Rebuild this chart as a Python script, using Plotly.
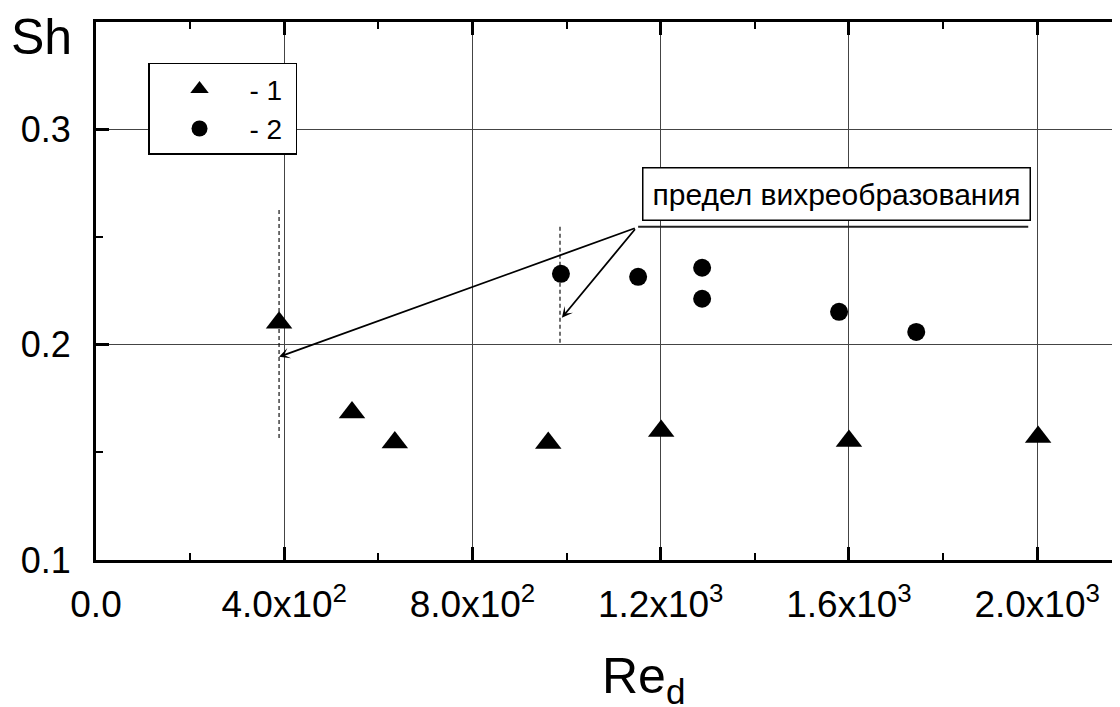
import plotly.graph_objects as go

# ---- data ----
re_1 = [389, 544, 635, 961, 1201, 1600, 2002]
sh_1 = [0.2102, 0.1685, 0.1546, 0.1544, 0.1600, 0.1553, 0.1572]

re_2 = [988, 1152, 1288, 1288, 1579, 1743]
sh_2 = [0.2330, 0.2316, 0.2358, 0.2214, 0.2153, 0.2060]

# vortex-formation limit (dashed verticals)
limit_a_x = [389, 389]
limit_a_y = [0.1567, 0.2628]
limit_b_x = [986, 986]
limit_b_y = [0.2009, 0.2558]

x_tickvals = [0, 400, 800, 1200, 1600, 2000]
x_ticktext = ["0.0", "4.0x10<sup>2</sup>", "8.0x10<sup>2</sup>",
              "1.2x10<sup>3</sup>", "1.6x10<sup>3</sup>", "2.0x10<sup>3</sup>"]
y_tickvals = [0.1, 0.2, 0.3]
y_ticktext = ["0.1", "0.2", "0.3"]

label_text = "предел вихреобразования"
series_names = ["- 1\u00a0", "- 2\u00a0"]

FONT = "Liberation Sans, Arial, sans-serif"

fig = go.Figure()

for xs, ys in [(limit_a_x, limit_a_y), (limit_b_x, limit_b_y)]:
    fig.add_trace(go.Scatter(x=xs, y=ys, mode="lines",
                             line=dict(color="#111111", width=1.2, dash="4px,3px"),
                             showlegend=False, hoverinfo="skip"))

fig.add_trace(go.Scatter(x=re_1, y=sh_1, mode="markers", name=series_names[0],
                         marker=dict(symbol="triangle-up", size=23, color="black")))
fig.add_trace(go.Scatter(x=re_2, y=sh_2, mode="markers", name=series_names[1],
                         marker=dict(symbol="circle", size=18, color="black")))

# arrows from the label to the limits
tail_x, tail_y = 1148, 0.2544
for hx, hy in [(389, 0.1944), (990, 0.2126)]:
    fig.add_annotation(x=hx, y=hy, ax=tail_x, ay=tail_y, xref="x", yref="y",
                       axref="x", ayref="y", text="", showarrow=True,
                       arrowhead=3, arrowsize=1.0, arrowwidth=1.8, arrowcolor="black")

fig.add_annotation(x=1573, y=0.2700, xref="x", yref="y", text=label_text,
                   showarrow=False, font=dict(family=FONT, size=30, color="black"),
                   bgcolor="white", bordercolor="black", borderwidth=1.5, borderpad=9)

fig.add_shape(type="line", x0=1152, x1=1981, y0=0.2549, y1=0.2549, xref="x", yref="y",
              line=dict(color="#222222", width=2))

# axis titles
fig.add_annotation(x=-0.084, y=0.972, xref="paper", yref="paper", xanchor="left",
                   yanchor="middle", text="Sh", showarrow=False,
                   font=dict(family=FONT, size=50, color="black"))
fig.add_annotation(x=0.488, y=-0.222, xref="paper", yref="paper", xanchor="left",
                   yanchor="middle", text="Re<sub>d</sub>", showarrow=False,
                   font=dict(family=FONT, size=50, color="black"))

fig.update_xaxes(range=[0, 2193], tickvals=x_tickvals, ticktext=x_ticktext,
                 showline=True, linecolor="black", linewidth=3, mirror="ticks",
                 ticks="inside", ticklen=13, tickwidth=2.5, tickcolor="black",
                 showgrid=True, gridcolor="#444444", gridwidth=1, zeroline=False,
                 minor=dict(dtick=200, ticks="inside", ticklen=7, tickwidth=2,
                            tickcolor="black", showgrid=False),
                 tickfont=dict(family=FONT, size=37, color="black"),
                 ticklabelstandoff=10)
fig.update_yaxes(range=[0.1, 0.35], tickvals=y_tickvals, ticktext=y_ticktext,
                 showline=True, linecolor="black", linewidth=3, mirror=False,
                 ticks="inside", ticklen=13, tickwidth=2.5, tickcolor="black",
                 showgrid=True, gridcolor="#444444", gridwidth=1, zeroline=False,
                 minor=dict(dtick=0.05, ticks="inside", ticklen=7, tickwidth=2,
                            tickcolor="black", showgrid=False),
                 tickfont=dict(family=FONT, size=36, color="black"),
                 ticklabelstandoff=15)

fig.update_layout(
    width=1120, height=707,
    margin=dict(l=88, r=0, t=14, b=155, autoexpand=False),
    paper_bgcolor="white", plot_bgcolor="white",
    font=dict(family=FONT, color="black"),
    legend=dict(x=0.0504, y=0.924, xanchor="left", yanchor="top",
                bgcolor="white", bordercolor="black", borderwidth=1.5,
                font=dict(family=FONT, size=28, color="black"),
                itemwidth=90, itemsizing="trace"),
)

fig.write_html("out.html")
